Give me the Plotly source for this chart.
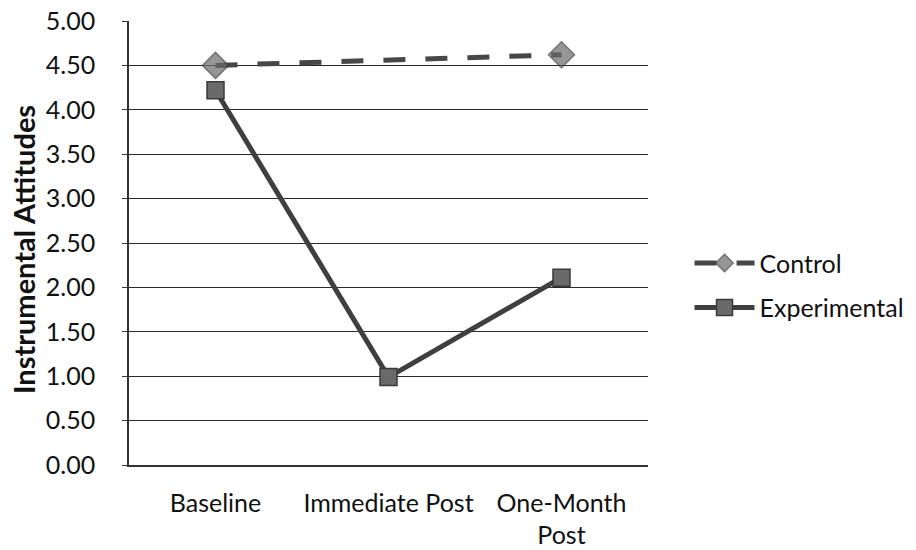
import plotly.graph_objects as go

categories = ["Baseline", "Immediate Post", "One-Month<br>Post"]
control = [4.50, 4.56, 4.62]
experimental = [4.22, 0.99, 2.11]
y_ticks = [0, 0.5, 1, 1.5, 2, 2.5, 3, 3.5, 4, 4.5, 5]
y_tick_labels = ["0.00", "0.50", "1.00", "1.50", "2.00", "2.50", "3.00", "3.50", "4.00", "4.50", "5.00"]

FONT = "Lato"
FS = 25
fig = go.Figure()
fig.add_trace(go.Scatter(
    x=categories, y=control, name="Control", mode="lines+markers",
    line=dict(color="#474747", width=5, dash="22px,20px"),
    marker=dict(symbol="diamond", size=[20, 0, 20], color="#6a6a6a", line=dict(color="#3a3a3a", width=1.5)),
    legendgroup="a",
))
fig.add_trace(go.Scatter(
    x=categories, y=experimental, name="Experimental", mode="lines+markers",
    line=dict(color="#3f3f3f", width=5),
    marker=dict(symbol="square", size=17, color="#6a6a6a", line=dict(color="#3a3a3a", width=1.5)),
    legendgroup="b",
))

fig.update_layout(
    width=916, height=550,
    margin=dict(l=129, r=268, t=21, b=85, autoexpand=False),
    paper_bgcolor="white", plot_bgcolor="white",
    font=dict(family=FONT, size=FS, color="#111"),
    showlegend=True,
    legend=dict(x=1.08, y=0.405, xanchor="left", yanchor="middle", itemwidth=60,
                font=dict(family=FONT, size=FS, color="#111"),
                tracegroupgap=9, traceorder="grouped", bgcolor="rgba(0,0,0,0)"),
    xaxis=dict(type="category", range=[-0.5, 2.5], showgrid=False, showline=True,
               linecolor="#333", linewidth=1.5, ticks="", ticklabelstandoff=15,
               automargin=False,
               tickfont=dict(family=FONT, size=FS, color="#111")),
    yaxis=dict(range=[0, 5], tickvals=y_ticks, ticktext=y_tick_labels,
               showgrid=True, gridcolor="#2a2a2a", gridwidth=1.1,
               showline=True, linecolor="#333", linewidth=1.5,
               ticks="outside", ticklen=5, tickcolor="#333", ticklabelstandoff=22,
               zeroline=False, automargin=False,
               tickfont=dict(family=FONT, size=FS, color="#111")),
    annotations=[dict(text="<b>Instrumental Attitudes</b>", x=(23 - 129) / 519, xref="paper",
                      y=0.484, yref="paper", xanchor="center", yanchor="middle",
                      showarrow=False, textangle=-90,
                      font=dict(family=FONT, size=29, color="#111"))],
)

fig.write_html("out.html", config={"displayModeBar": False},
               post_script="document.body.style.margin='0';document.body.style.padding='0';")
